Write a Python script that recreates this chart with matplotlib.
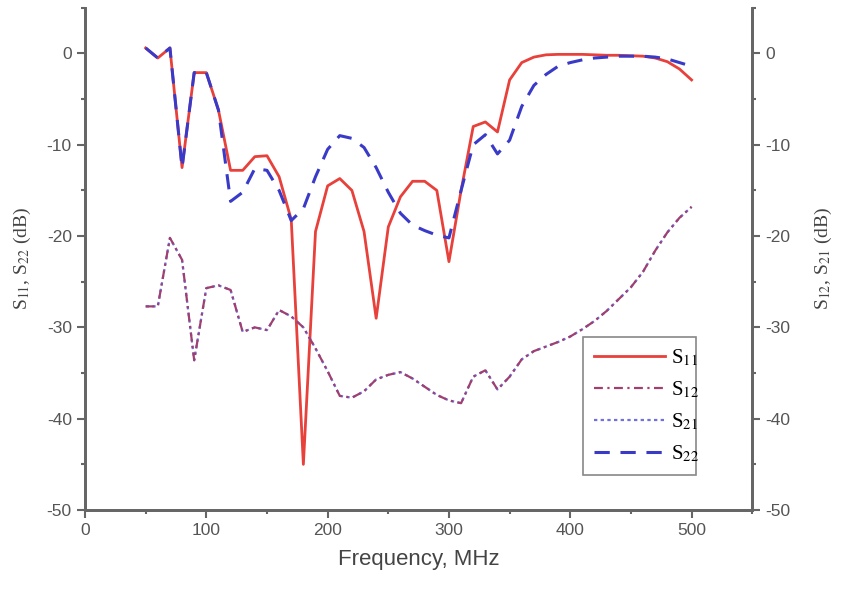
import matplotlib
matplotlib.use("Agg")
import matplotlib.pyplot as plt
from matplotlib.ticker import MultipleLocator

plt.rcParams['font.family'] = ['Liberation Sans', 'DejaVu Sans']
plt.rcParams['mathtext.fontset'] = 'stix'
plt.rcParams['axes.unicode_minus'] = False

freq = [50, 60, 70, 80, 90, 100, 110, 120, 130, 140, 150, 160, 170, 180, 190,
        200, 210, 220, 230, 240, 250, 260, 270, 280, 290, 300, 310, 320, 330,
        340, 350, 360, 370, 380, 390, 400, 410, 420, 430, 440, 450, 460, 470,
        480, 490, 500]

s11 = [0.6, -0.5, 0.6, -12.5, -2.1, -2.1, -6.2, -12.8, -12.8, -11.3, -11.2,
       -13.5, -18.2, -45.0, -19.5, -14.5, -13.7, -15.0, -19.5, -29.0, -19.0,
       -15.7, -14.0, -14.0, -15.0, -22.8, -15.0, -8.0, -7.5, -8.6, -2.9,
       -1.0, -0.4, -0.15, -0.1, -0.1, -0.1, -0.15, -0.2, -0.2, -0.25, -0.3,
       -0.5, -0.9, -1.7, -2.9]

s22 = [0.6, -0.5, 0.6, -12.5, -2.1, -2.1, -6.2, -16.2, -15.2, -12.6, -12.8,
       -15.0, -18.3, -17.0, -13.5, -10.5, -9.0, -9.3, -10.3, -12.5, -15.2,
       -17.5, -18.8, -19.4, -19.9, -20.2, -15.0, -10.0, -8.9, -11.0, -9.5,
       -5.8, -3.5, -2.3, -1.4, -1.0, -0.7, -0.5, -0.4, -0.3, -0.3, -0.3,
       -0.4, -0.6, -1.0, -1.4]

s12 = [-27.7, -27.7, -20.2, -22.6, -33.6, -25.7, -25.4, -25.9, -30.5, -30.0,
       -30.3, -28.1, -28.8, -30.0, -32.3, -34.8, -37.5, -37.7, -37.0, -35.7,
       -35.2, -34.9, -35.6, -36.5, -37.4, -38.0, -38.3, -35.4, -34.7, -36.8,
       -35.4, -33.5, -32.6, -32.1, -31.6, -31.0, -30.2, -29.3, -28.2, -26.9,
       -25.6, -23.9, -21.6, -19.6, -18.0, -16.8]

s21 = [-27.7, -27.7, -20.2, -22.6, -33.6, -25.7, -25.4, -25.9, -30.5, -30.0,
       -30.3, -28.1, -28.8, -30.0, -32.3, -34.8, -37.5, -37.7, -37.0, -35.7,
       -35.2, -34.9, -35.6, -36.5, -37.4, -38.0, -38.3, -35.4, -34.7, -36.8,
       -35.4, -33.5, -32.6, -32.1, -31.6, -31.0, -30.2, -29.3, -28.2, -26.9,
       -25.6, -23.9, -21.6, -19.6, -18.0, -16.8]

labels = [r'S$_{11}$', r'S$_{12}$', r'S$_{21}$', r'S$_{22}$']

fig = plt.figure(figsize=(8.5, 6), dpi=100)
ax = fig.add_axes([0.1, 0.15, 0.785, 0.837])
ax2 = ax.twinx()

spine_col = '#666666'
text_col = '#555555'

l1, = ax.plot(freq, s11, color='#e8403a', lw=2.0, label=labels[0])
l4, = ax.plot(freq, s22, color='#3a3ac8', lw=2.2, ls=(0, (5, 3.5)), label=labels[3])
l3, = ax2.plot(freq, s21, color='#7070e0', lw=1.6, ls=(0, (1.5, 1.5)), label=labels[2])
l2, = ax2.plot(freq, s12, color='#a04070', lw=1.6, ls=(0, (4, 2, 1, 2)), label=labels[1])

for a in (ax, ax2):
    a.set_xlim(0, 550)
    a.set_ylim(-50, 5)
    a.spines['top'].set_visible(False)
    for s in ('left', 'right', 'bottom'):
        a.spines[s].set_color(spine_col)
        a.spines[s].set_linewidth(2.0)
    a.yaxis.set_major_locator(MultipleLocator(10))
    a.yaxis.set_minor_locator(MultipleLocator(5))
    a.tick_params(which='major', direction='out', length=6, width=1.5,
                  color=spine_col, labelcolor=text_col, labelsize=12.5)
    a.tick_params(which='minor', direction='out', length=3, width=1.5,
                  color=spine_col)

ax.xaxis.set_major_locator(MultipleLocator(100))
ax.xaxis.set_minor_locator(MultipleLocator(50))
ax.set_xlabel('Frequency, MHz', fontsize=16, color='#444444', labelpad=8)

ax.set_ylabel(r'S$_{11}$, S$_{22}$ (dB)', fontsize=14, color='#444444',
              family='Liberation Serif', labelpad=10)
ax2.set_ylabel(r'S$_{12}$, S$_{21}$ (dB)', fontsize=14, color='#444444',
               family='Liberation Serif', labelpad=16)

leg = ax2.legend([l1, l2, l3, l4], labels, loc='lower left',
                 bbox_to_anchor=(0.747, 0.07, 0.168, 0.27), mode='expand',
                 borderaxespad=0, fancybox=False, framealpha=1,
                 edgecolor='#888888',
                 prop={'family': 'Liberation Serif', 'size': 15},
                 handlelength=3.4, labelspacing=0.55, borderpad=0.5,
                 handletextpad=0.3)
leg.get_frame().set_linewidth(1.2)

fig.savefig('out.png', dpi=100, facecolor='white')
